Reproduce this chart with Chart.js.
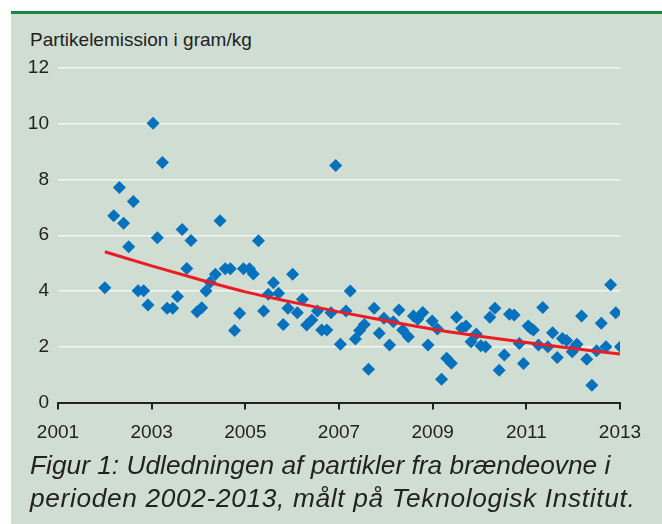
<!DOCTYPE html>
<html>
<head>
<meta charset="utf-8">
<script src="https://cdn.jsdelivr.net/npm/chart.js@4/dist/chart.umd.min.js"></script>
<style>
    html, body { margin: 0; padding: 0; background: #ffffff; }
    body { width: 662px; height: 524px; position: relative; overflow: hidden; font-family: 'Liberation Sans', Arial, sans-serif; }
    #panel {
        position: absolute; left: 11px; top: 11px; width: 651px; height: 513px;
        background: #cfddd2; border-top: 3px solid #138a3e; box-sizing: border-box;
    }
    #unit {
        position: absolute; left: 30px; top: 29px; font-size: 19px; line-height: 22px; color: #222;
    }
    #caption {
        position: absolute; left: 30px; top: 449px; font-size: 26.3px; line-height: 33px;
        font-style: italic; color: #222; white-space: nowrap;
    }
    #caption .l2 { letter-spacing: 0.65px; }
    #wrap { position: absolute; left: 0; top: 0; width: 662px; height: 524px; }
</style>
</head>
<body>
<div id="panel"></div>
<div id="unit">Partikelemission i gram/kg</div>
<div id="wrap"><canvas id="chart"></canvas></div>
<div id="caption">Figur 1: Udledningen af partikler fra brændeovne i<br><span class="l2">perioden 2002-2013, målt på Teknologisk Institut.</span></div>

<script>
// --- Data ---
const emissionYears = [
    2002.00, 2002.19, 2002.31, 2002.40, 2002.51, 2002.61, 2002.71, 2002.83, 2002.92,
    2003.03, 2003.12, 2003.23, 2003.33, 2003.45, 2003.55, 2003.65, 2003.75, 2003.84, 2003.97,
    2004.07, 2004.16, 2004.25, 2004.36, 2004.46, 2004.57, 2004.68, 2004.77, 2004.88, 2004.96,
    2005.09, 2005.17, 2005.28, 2005.39, 2005.49, 2005.60, 2005.71, 2005.81, 2005.91,
    2006.01, 2006.11, 2006.22, 2006.31, 2006.42, 2006.54, 2006.63, 2006.74, 2006.83, 2006.93,
    2007.03, 2007.15, 2007.24, 2007.35, 2007.44, 2007.54, 2007.63, 2007.75, 2007.86, 2007.96,
    2008.08, 2008.16, 2008.28, 2008.36, 2008.48, 2008.59, 2008.68, 2008.79, 2008.90, 2008.99,
    2009.10, 2009.19, 2009.30, 2009.40, 2009.51, 2009.62, 2009.71, 2009.82, 2009.93,
    2010.03, 2010.13, 2010.22, 2010.33, 2010.42, 2010.53, 2010.64, 2010.74, 2010.85, 2010.94,
    2011.04, 2011.09, 2011.15, 2011.26, 2011.35, 2011.46, 2011.56, 2011.66, 2011.77, 2011.86, 2011.98,
    2012.04, 2012.08, 2012.18, 2012.29, 2012.40, 2012.50, 2012.60, 2012.70, 2012.80, 2012.91,
    2013.01
];
const emissionValues = [
    4.12, 6.70, 7.71, 6.43, 5.59, 7.21, 4.01, 4.01, 3.50,
    10.02, 5.91, 8.61, 3.38, 3.38, 3.80, 6.21, 4.81, 5.81, 3.26,
    3.40, 4.00, 4.31, 4.60, 6.52, 4.80, 4.80, 2.58, 3.20, 4.80,
    4.80, 4.61, 5.80, 3.28, 3.88, 4.30, 3.92, 2.80, 3.38,
    4.60, 3.22, 3.70, 2.78, 2.96, 3.28, 2.60, 2.60, 3.22, 8.50,
    2.09, 3.28, 4.00, 2.28, 2.58, 2.80, 1.19, 3.38, 2.48, 3.02,
    2.06, 2.90, 3.32, 2.60, 2.36, 3.10, 2.99, 3.23, 2.06, 2.92,
    2.64, 0.83, 1.59, 1.41, 3.06, 2.66, 2.74, 2.18, 2.46,
    2.04, 2.00, 3.06, 3.38, 1.16, 1.70, 3.17, 3.14, 2.12, 1.40,
    2.74, 2.66, 2.60, 2.06, 3.41, 2.00, 2.50, 1.61, 2.30, 2.22, 1.82,
    2.00, 2.09, 3.10, 1.55, 0.62, 1.86, 2.84, 2.00, 4.22, 3.22,
    2.00
];

// trend curve (red), read at whole years
const trendYears = [2002, 2003, 2004, 2005, 2006, 2007, 2008, 2009, 2010, 2011, 2012, 2013];
const trendValues = [5.41, 4.90, 4.42, 3.97, 3.60, 3.25, 2.93, 2.63, 2.38, 2.15, 1.94, 1.74];

const xTicks = [2001, 2003, 2005, 2007, 2009, 2011, 2013];
const yTicks = [0, 2, 4, 6, 8, 10, 12];

// --- Chart ---
Chart.defaults.font.family = "'Liberation Sans', Arial, sans-serif";
Chart.defaults.color = '#222';

const scatterPoints = emissionYears.map((yr, i) => ({ x: yr, y: emissionValues[i] }));
const trendPoints = trendYears.map((yr, i) => ({ x: yr, y: trendValues[i] }));

const ctx = document.getElementById('chart').getContext('2d');
new Chart(ctx, {
    type: 'scatter',
    data: {
        datasets: [
            {
                type: 'line',
                label: 'Trend',
                data: trendPoints,
                borderColor: '#ec1c24',
                borderWidth: 3,
                pointRadius: 0,
                fill: false,
                cubicInterpolationMode: 'monotone',
                order: 0
            },
            {
                label: 'Partikelemission',
                data: scatterPoints,
                pointStyle: 'rectRot',
                pointRadius: 6.5,
                backgroundColor: '#0671bd',
                borderColor: '#0671bd',
                borderWidth: 0,
                order: 1
            }
        ]
    },
    options: {
        responsive: true,
        maintainAspectRatio: false,
        animation: false,
        layout: { padding: { left: 0, right: 42, top: 68, bottom: 0 } },
        plugins: { legend: { display: false }, tooltip: { enabled: false } },
        scales: {
            x: {
                type: 'linear',
                min: 2001,
                max: 2013,
                afterBuildTicks: s => { s.ticks = xTicks.map(v => ({ value: v })); },
                afterFit: s => { s.height = 524 - 402.5; },
                ticks: {
                    font: { size: 19 },
                    padding: 12,
                    maxRotation: 0,
                    callback: v => String(v)
                },
                grid: {
                    drawOnChartArea: false,
                    drawTicks: true,
                    tickLength: 7,
                    color: '#222',
                    lineWidth: 2
                },
                border: { display: true, color: '#222', width: 2 }
            },
            y: {
                min: 0,
                max: 12,
                afterBuildTicks: s => { s.ticks = yTicks.map(v => ({ value: v })); },
                afterFit: s => { s.width = 58; },
                ticks: { font: { size: 19 }, padding: 9 },
                grid: {
                    drawTicks: false,
                    color: c => (c.tick && c.tick.value === 0) ? 'rgba(0,0,0,0)' : '#f3f6f3',
                    lineWidth: 1.5
                },
                border: { display: false }
            }
        }
    }
});
</script>
</body>
</html>
